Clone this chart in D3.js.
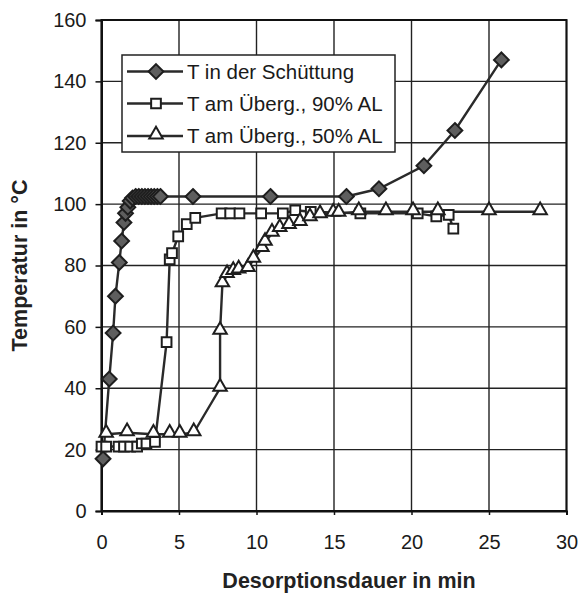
<!DOCTYPE html>
<html>
<head>
<meta charset="utf-8">
<script src="https://cdn.jsdelivr.net/npm/d3@7"></script>
<style>
  body { margin: 0; background: #fff; }
  svg { font-family: "Liberation Sans", Arial, sans-serif; }
</style>
</head>
<body>
<div id="chart"></div>
<script>
/* Data: [Desorptionsdauer in min, Temperatur in °C] */
const schuettung = [
  [0.1, 17], [0.5, 43], [0.75, 58], [0.9, 70], [1.15, 81], [1.3, 88],
  [1.45, 94], [1.55, 97], [1.7, 99], [1.85, 101], [2.0, 102], [2.2, 102.5],
  [2.4, 102.5], [2.6, 102.5], [2.8, 102.5], [3.0, 102.5], [3.2, 102.5],
  [3.4, 102.5], [3.6, 102.5], [3.8, 102.5],
  [5.9, 102.5], [10.9, 102.5], [15.8, 102.5], [17.9, 105], [20.8, 112.5],
  [22.8, 124], [25.8, 147]
]
const uebergang90 = [
  [0, 21], [0.3, 21], [1.1, 21], [1.45, 21], [1.85, 21], [2.3, 21],
  [2.6, 22], [2.9, 22], [3.45, 22.5], [4.2, 55], [4.4, 82], [4.55, 84],
  [4.95, 89.5], [5.5, 93.5], [6.05, 95.5], [7.75, 97], [8.3, 97], [8.9, 97],
  [10.3, 97], [11.7, 97], [12.5, 98], [13.5, 97.5], [16.7, 97], [20.4, 97],
  [21.6, 96], [22.4, 96.5], [22.7, 92]
]
const uebergang50 = [
  [0.3, 25], [1.65, 25.5], [3.35, 25], [4.4, 25], [5.05, 25], [5.95, 25.5],
  [7.65, 40], [7.65, 58.5], [7.8, 74], [8.1, 77], [8.5, 78], [8.85, 78.5],
  [9.45, 79], [9.8, 82], [10.35, 85.5], [10.55, 87.5], [11, 90.5], [11.5, 92],
  [12.1, 93], [12.8, 94], [13.45, 95.5], [14.1, 96.5], [14.95, 97], [15.3, 97],
  [16.6, 97.5], [18.35, 97.5], [20.1, 97.5], [21.7, 97.5], [25, 97.5], [28.3, 97.5]
]
const xTicks = [0, 5, 10, 15, 20, 25, 30]
const yTicks = [0, 20, 40, 60, 80, 100, 120, 140, 160]
const seriesNames = ["T in der Schüttung", "T am Überg., 90% AL", "T am Überg., 50% AL"]

/* Define svg-size. */
const width = 578
const height = 596

const svg = d3.select("#chart")
  .append("svg")
  .attr("width", width)
  .attr("height", height)

/* Define scales. */
const x = d3.scaleLinear().domain([0, 30]).range([101.5, 566.5])
const y = d3.scaleLinear().domain([0, 160]).range([511, 20])

/* Grid lines. */
svg.append("g")
  .selectAll("line.vgrid")
  .data(xTicks)
  .enter()
  .append("line")
  .attr("x1", d => x(d)).attr("x2", d => x(d))
  .attr("y1", y(0)).attr("y2", y(160))
  .attr("stroke", "#222")
  .attr("stroke-width", 1.4)

svg.append("g")
  .selectAll("line.hgrid")
  .data(yTicks)
  .enter()
  .append("line")
  .attr("x1", x(0)).attr("x2", x(30))
  .attr("y1", d => y(d)).attr("y2", d => y(d))
  .attr("stroke", "#222")
  .attr("stroke-width", 1.4)

/* Plot border. */
svg.append("rect")
  .attr("x", x(0)).attr("y", y(160))
  .attr("width", x(30) - x(0)).attr("height", y(0) - y(160))
  .attr("fill", "none")
  .attr("stroke", "#111")
  .attr("stroke-width", 2)

/* Axes. */
const xAxis = svg.append("g")
  .attr("transform", `translate(0,${y(0)})`)
  .call(d3.axisBottom(x).tickValues(xTicks).tickSize(4).tickPadding(20))
const yAxis = svg.append("g")
  .attr("transform", `translate(${x(0)},0)`)
  .call(d3.axisLeft(y).tickValues(yTicks).tickSize(6).tickPadding(9))

;[xAxis, yAxis].forEach(a => {
  a.select(".domain").attr("stroke", "#111").attr("stroke-width", 2)
  a.selectAll(".tick line").attr("stroke", "#111").attr("stroke-width", 1.5)
  a.selectAll(".tick text")
    .attr("font-size", 20)
    .attr("fill", "#1a1a1a")
    .attr("font-family", "'Liberation Sans', Arial, sans-serif")
})
xAxis.selectAll(".tick text").attr("dy", "0.71em")

/* Axis titles. */
svg.append("text")
  .attr("x", 349).attr("y", 588)
  .attr("text-anchor", "middle")
  .attr("font-size", 21.5)
  .attr("font-weight", "bold")
  .attr("fill", "#222")
  .text("Desorptionsdauer in min")

svg.append("text")
  .attr("transform", `translate(27,${(y(0) + y(160)) / 2}) rotate(-90)`)
  .attr("text-anchor", "middle")
  .attr("font-size", 21.5)
  .attr("font-weight", "bold")
  .attr("fill", "#222")
  .text("Temperatur in °C")

/* Line generator. */
const line = d3.line().x(d => x(d[0])).y(d => y(d[1]))

/* Marker shapes. */
const diamond = d3.symbol().type(d3.symbolDiamond2).size(140)
const square = d3.symbol().type(d3.symbolSquare2).size(120)
const triangle = d3.symbol().type(d3.symbolTriangle2).size(130)

const series = [
  { data: schuettung, shape: diamond, fill: "#5e5e5e", dy: 0 },
  { data: uebergang90, shape: square, fill: "#fff", dy: 0 },
  { data: uebergang50, shape: triangle, fill: "#fff", dy: -1.5 }
]

series.forEach(s => {
  svg.append("path")
    .datum(s.data)
    .attr("d", line)
    .attr("fill", "none")
    .attr("stroke", "#2a2a2a")
    .attr("stroke-width", 2.4)
})

series.forEach(s => {
  svg.append("g")
    .selectAll("path")
    .data(s.data)
    .enter()
    .append("path")
    .attr("transform", d => `translate(${x(d[0])},${y(d[1]) + s.dy})`)
    .attr("d", s.shape)
    .attr("fill", s.fill)
    .attr("stroke", "#1e1e1e")
    .attr("stroke-width", 2)
})

/* Legend. */
const legend = svg.append("g")
legend.append("rect")
  .attr("x", 122).attr("y", 55)
  .attr("width", 273).attr("height", 97)
  .attr("fill", "#fff")
  .attr("stroke", "#222")
  .attr("stroke-width", 1.5)

const legendRows = [71.5, 103.5, 136]
series.forEach((s, i) => {
  const ly = legendRows[i]
  legend.append("line")
    .attr("x1", 127).attr("x2", 183)
    .attr("y1", ly).attr("y2", ly)
    .attr("stroke", "#2a2a2a")
    .attr("stroke-width", 2.4)
  legend.append("path")
    .attr("transform", `translate(156,${ly + s.dy})`)
    .attr("d", s.shape)
    .attr("fill", s.fill)
    .attr("stroke", "#1e1e1e")
    .attr("stroke-width", 2)
  legend.append("text")
    .attr("x", 187).attr("y", ly)
    .attr("dy", "0.36em")
    .attr("font-size", 20.5)
    .attr("fill", "#1a1a1a")
    .text(seriesNames[i])
})
</script>
</body>
</html>
